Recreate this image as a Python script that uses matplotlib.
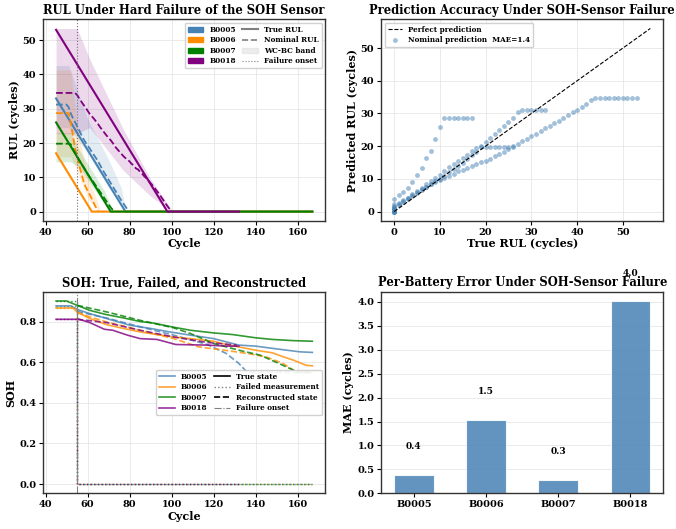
import matplotlib
matplotlib.use('Agg')
import matplotlib.pyplot as plt
from matplotlib.patches import Patch
from matplotlib.lines import Line2D

# ---------------- data ----------------
batteries = ['B0005', 'B0006', 'B0007', 'B0018']
colors = ['#4682B4', '#FF8C00', '#008000', '#800080']
failure_cycle = 55
last_cycle = [167, 167, 167, 132]

# RUL panel: per-cycle true RUL and nominal predicted RUL (cycles start at 45)
start_cycle = 45
true_B0005 = [33, 32, 31, 30, 29, 28, 27, 26, 25, 24, 23, 22, 21, 20, 19, 18, 17, 16, 15, 14,
              13, 12, 11, 10, 9, 8, 7, 6, 5, 4, 3, 2, 1, 0, 0, 0]
nom_B0005 = [31.2, 31.2, 31.2, 31.2, 31.2, 31.2, 30.4, 28.6, 27.3, 26.1, 24.9, 23.7, 22.4, 21.2, 20.2,
             19.3, 18.4, 17.4, 16.5, 15.6, 14.6, 13.5, 12.3, 11.3, 10.3,
             9.3, 8.3, 7.3, 6.3, 5.3, 4.3, 3.3, 2.4, 1.5, 0.6, 0.0]
true_B0006 = [17, 16, 15, 14, 13, 12, 11, 10, 9, 8, 7, 6, 5, 4, 3, 2, 1, 0, 0, 0, 0]
nom_B0006 = [28.7, 28.7, 28.7, 28.7, 28.7, 28.7, 28.7, 25.8, 22.2, 18.4, 16.5, 13.4, 11.3, 9.0,
             7.3, 6.1, 5.0, 3.7, 2.4, 1.2, 0.0]
true_B0007 = [26, 25, 24, 23, 22, 21, 20, 19, 18, 17, 16, 15, 14, 13, 12, 11, 10, 9, 8, 7,
              6, 5, 4, 3, 2, 1, 0, 0, 0]
nom_B0007 = [19.8, 19.8, 19.8, 19.8, 19.8, 19.8, 19.8, 19.6, 18.3, 17.2, 16.0, 15.0, 14.0, 13.0,
             12.0, 11.0, 10.1, 9.3, 8.4, 7.5, 6.6, 5.7, 4.8, 3.9, 3.0, 2.1, 1.2, 0.5, 0.0]
true_B0018 = [53, 52, 51, 50, 49, 48, 47, 46, 45, 44, 43, 42, 41, 40, 39, 38, 37, 36, 35, 34,
              33, 32, 31, 30, 29, 28, 27, 26, 25, 24, 23, 22, 21, 20, 19, 18, 17, 16, 15, 14,
              13, 12, 11, 10, 9, 8, 7, 6, 5, 4, 3, 2, 1, 0, 0, 0]
nom_B0018 = [34.6, 34.6, 34.6, 34.6, 34.6, 34.6, 34.6, 34.6, 34.6, 34.6,
             34.0, 33.0, 32.1, 31.2, 30.4, 29.4, 28.5, 27.8, 27.1, 26.3,
             25.5, 24.6, 23.8, 23.0, 22.2, 21.5, 20.8, 20.0,
             19.0, 18.3, 17.6, 16.9, 16.2, 15.6,
             15.2, 14.6, 13.9, 13.4, 12.6, 12.3, 11.6, 11.0, 10.3, 9.7,
             9.0, 8.3, 7.6, 6.8, 6.0, 5.2, 4.3, 3.4, 2.5, 1.6, 0.8, 0.0]
true_rul = [true_B0005, true_B0006, true_B0007, true_B0018]
nom_rul = [nom_B0005, nom_B0006, nom_B0007, nom_B0018]

# WC-BC band keypoints (cycle, lower, upper)
band_cyc = [[45, 51, 60, 70, 76, 78],
            [45, 52, 55, 58, 61, 66],
            [45, 52, 56, 62, 68, 72],
            [45, 55, 61, 77, 90, 100]]
band_lo = [[24.5, 24.5, 17.0, 7.0, 2.0, 0.0],
           [16.0, 16.0, 12.0, 7.0, 3.0, 0.0],
           [14.5, 14.5, 13.0, 7.5, 2.5, 0.0],
           [22.7, 22.7, 24.5, 12.0, 4.5, 0.0]]
band_hi = [[42.6, 42.6, 27.0, 15.2, 7.0, 1.0],
           [41.3, 41.3, 25.0, 16.0, 9.0, 0.5],
           [23.0, 23.0, 18.0, 12.0, 6.0, 0.5],
           [53.4, 53.4, 44.5, 24.0, 9.5, 0.5]]

# SOH panel keypoints
soh_cyc = [[45, 52, 55, 61, 69, 80, 90, 99, 109, 120, 132, 140, 151, 161, 167],
           [45, 53, 55, 61, 69, 77, 85, 93, 101, 109, 120, 126, 132, 140, 148, 153, 158, 164, 167],
           [45, 50, 55, 61, 69, 77, 85, 91, 100, 109, 120, 129, 140, 148, 158, 167],
           [45, 56, 61, 68, 72, 79, 85, 93, 102, 117, 126, 132]]
soh_true = [[0.877, 0.877, 0.860, 0.839, 0.815, 0.782, 0.766, 0.749, 0.733, 0.716, 0.684, 0.679, 0.664, 0.651, 0.648],
            [0.867, 0.867, 0.847, 0.815, 0.785, 0.766, 0.749, 0.736, 0.724, 0.716, 0.703, 0.687, 0.675, 0.659, 0.646, 0.627, 0.610, 0.585, 0.582],
            [0.901, 0.901, 0.880, 0.855, 0.834, 0.818, 0.800, 0.793, 0.774, 0.757, 0.744, 0.736, 0.720, 0.712, 0.706, 0.703],
            [0.811, 0.811, 0.795, 0.762, 0.757, 0.733, 0.716, 0.712, 0.687, 0.684, 0.679, 0.679]]
rec_cyc = [[55, 70, 85, 101, 117, 126, 132, 136, 167],
           [55, 61, 69, 85, 101, 113, 125, 136, 145, 153, 159, 167],
           [55, 70, 85, 101, 109, 120, 132, 142, 151, 158, 159, 167],
           [55, 69, 85, 101, 117, 131]]
soh_rec = [[0.850, 0.815, 0.774, 0.733, 0.687, 0.643, 0.594, 0.550, 0.550],
           [0.845, 0.823, 0.798, 0.757, 0.716, 0.675, 0.659, 0.643, 0.626, 0.594, 0.553, 0.550],
           [0.880, 0.845, 0.806, 0.769, 0.741, 0.692, 0.659, 0.635, 0.594, 0.561, 0.550, 0.550],
           [0.811, 0.795, 0.757, 0.724, 0.697, 0.684]]

# Scatter / bars
overall_mae = 1.4
diag_max = 56
mae_values = [0.38, 1.54, 0.27, 4.01]

# ---------------- style ----------------
plt.rcParams['font.family'] = ['DejaVu Serif']
plt.rcParams['font.weight'] = 'bold'
plt.rcParams['axes.labelweight'] = 'bold'
plt.rcParams['axes.titleweight'] = 'bold'
plt.rcParams['axes.edgecolor'] = '#333333'
plt.rcParams['axes.linewidth'] = 1.0
plt.rcParams['xtick.labelsize'] = 7
plt.rcParams['ytick.labelsize'] = 7
plt.rcParams['xtick.major.size'] = 3
plt.rcParams['ytick.major.size'] = 3
plt.rcParams['xtick.major.pad'] = 2
plt.rcParams['ytick.major.pad'] = 2

fig, axes = plt.subplots(2, 2, figsize=(6.76, 5.29), dpi=100)
fig.subplots_adjust(left=0.064, right=0.981, bottom=0.0675, top=0.9635, wspace=0.199, hspace=0.353)
title_fs = 8.3
label_fs = 8
leg_fs = 5.2


def style(ax):
    ax.grid(True, color='#e6e6e6', linewidth=0.6)
    ax.set_axisbelow(True)


# ---- Panel 1: RUL ----
ax = axes[0, 0]
style(ax)
for i, b in enumerate(batteries):
    cyc = [start_cycle + k for k in range(len(true_rul[i]))]
    ax.fill_between(band_cyc[i], band_lo[i], band_hi[i], color=colors[i], alpha=0.15, linewidth=0)
    ax.plot(cyc + [last_cycle[i]], true_rul[i] + [0], color=colors[i], lw=1.5)
    ax.plot(cyc, nom_rul[i], color=colors[i], lw=1.3, ls='--')
ax.axvline(failure_cycle, color='#7a6a7a', lw=0.8, ls=':')
ax.set_title('RUL Under Hard Failure of the SOH Sensor', fontsize=title_fs, pad=4)
ax.set_xlabel('Cycle', fontsize=label_fs, labelpad=1)
ax.set_ylabel('RUL (cycles)', fontsize=label_fs, labelpad=2)
handles = [Patch(color=c, label=b) for b, c in zip(batteries, colors)]
handles += [Line2D([], [], color='gray', lw=1.5, label='True RUL'),
            Line2D([], [], color='gray', lw=1.2, ls='--', label='Nominal RUL'),
            Patch(color='lightgray', alpha=0.4, label='WC-BC band'),
            Line2D([], [], color='gray', lw=0.8, ls=':', label='Failure onset')]
ax.legend(handles=handles, loc='upper right', ncol=2, fontsize=leg_fs, framealpha=0.9,
          handlelength=2.2, columnspacing=0.9, borderpad=0.4, labelspacing=0.35)

# ---- Panel 2: scatter ----
ax = axes[0, 1]
style(ax)
ax.plot([0, diag_max], [0, diag_max], color='black', lw=0.8, ls='--', label='Perfect prediction')
all_true = true_B0005 + true_B0006 + true_B0007 + true_B0018
all_pred = nom_B0005 + nom_B0006 + nom_B0007 + nom_B0018
ax.scatter(all_true, all_pred, s=12, color='#4682B4', alpha=0.5, linewidths=0,
           label=f'Nominal prediction  MAE={overall_mae:.1f}')
ax.set_title('Prediction Accuracy Under SOH-Sensor Failure', fontsize=title_fs, pad=4)
ax.set_xlabel('True RUL (cycles)', fontsize=label_fs, labelpad=1)
ax.set_ylabel('Predicted RUL (cycles)', fontsize=label_fs, labelpad=2)
ax.legend(loc='upper left', fontsize=leg_fs, framealpha=0.9, borderpad=0.4, labelspacing=0.35)

# ---- Panel 3: SOH ----
ax = axes[1, 0]
style(ax)
for i, b in enumerate(batteries):
    ax.plot(soh_cyc[i], soh_true[i], color=colors[i], lw=1.2, alpha=0.8)
    pre_c = [c for c in soh_cyc[i] if c < failure_cycle]
    pre_v = [v for c, v in zip(soh_cyc[i], soh_true[i]) if c < failure_cycle]
    ax.plot(pre_c + [failure_cycle, failure_cycle, last_cycle[i]],
            pre_v + [pre_v[-1], 0.0, 0.0], color=colors[i], lw=1.0, ls=':', alpha=0.8)
    ax.plot(rec_cyc[i], soh_rec[i], color=colors[i], lw=1.2, ls='--', alpha=0.8)
ax.axvline(failure_cycle, color='gray', lw=0.8, ls='-.')
ax.set_title('SOH: True, Failed, and Reconstructed', fontsize=title_fs, pad=4)
ax.set_xlabel('Cycle', fontsize=label_fs, labelpad=1)
ax.set_ylabel('SOH', fontsize=label_fs, labelpad=2)
handles = [Line2D([], [], color=c, lw=1.2, alpha=0.8, label=b) for b, c in zip(batteries, colors)]
handles += [Line2D([], [], color='black', lw=1.2, label='True state'),
            Line2D([], [], color='gray', lw=1.0, ls=':', label='Failed measurement'),
            Line2D([], [], color='black', lw=1.2, ls='--', label='Reconstructed state'),
            Line2D([], [], color='gray', lw=0.8, ls='-.', label='Failure onset')]
ax.legend(handles=handles, loc='center right', ncol=2, fontsize=leg_fs, framealpha=0.9,
          handlelength=2.2, columnspacing=0.9, borderpad=0.4, labelspacing=0.35)

# ---- Panel 4: bars ----
ax = axes[1, 1]
style(ax)
ax.grid(False, axis='x')
ax.bar(batteries, mae_values, width=0.55, color='#4682B4', alpha=0.85, edgecolor='white', linewidth=0.8)
for b, v in zip(batteries, mae_values):
    ax.text(b, v + 0.5, f'{v:.1f}', ha='center', va='bottom', fontsize=6.5, fontweight='bold')
ax.set_title('Per-Battery Error Under SOH-Sensor Failure', fontsize=title_fs, pad=4)
ax.set_ylabel('MAE (cycles)', fontsize=label_fs, labelpad=2)

fig.savefig('out.png', dpi=100)
